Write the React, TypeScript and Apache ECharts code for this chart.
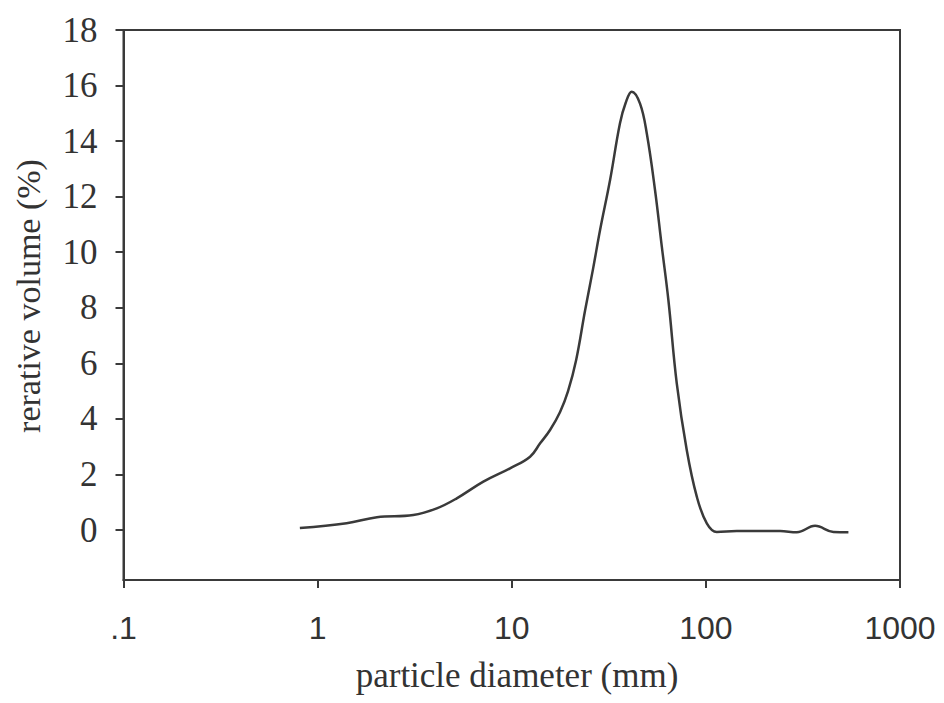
import React, { useEffect, useRef } from "react";
import * as echarts from "echarts";

// particle diameter (mm)
const diameters = [
  0.81, 1.41, 2.02, 3.11, 4.11, 5.21, 7.14, 9.8, 12.43, 14.0, 15.75, 17.74, 19.5, 21.44, 23.86,
  26.23, 28.51, 32.1, 36.1, 38.6, 41.5, 45.8, 49.6, 54.7, 59.3, 64.1, 70.8, 79.7, 89.8, 101.1,
  113.8, 144.3, 241.2, 294.0, 365.2, 453.9, 542.3,
];
// relative volume (%)
const volumes = [
  0.07, 0.24, 0.46, 0.54, 0.78, 1.14, 1.74, 2.22, 2.64, 3.12, 3.6, 4.25, 5.0, 6.1, 7.9,
  9.4, 10.8, 12.6, 14.64, 15.37, 15.78, 15.35, 14.28, 12.24, 10.2, 8.28, 5.28, 2.88, 1.2, 0.24,
  -0.07, -0.04, -0.04, -0.08, 0.15, -0.07, -0.08,
];
const xTickLabels = [".1", "1", "10", "100", "1000"];
const yTickValues = [0, 2, 4, 6, 8, 10, 12, 14, 16, 18];
const xTitle = "particle diameter (mm)";
const yTitle = "rerative volume (%)";

export default function App() {
  const ref = useRef<HTMLDivElement>(null);
  useEffect(() => {
    if (!ref.current) return;
    const chart = echarts.init(ref.current, null, { renderer: "svg" });
    const lineColor = "#3a3a3a";
    const textColor = "#333";
    chart.setOption({
      animation: false,
      backgroundColor: "#ffffff",
      grid: {
        left: 123.5,
        right: 44,
        top: 30,
        bottom: 123,
        show: true,
        borderColor: lineColor,
        borderWidth: 2,
      },
      xAxis: {
        type: "log",
        logBase: 10,
        min: 0.1,
        max: 1000,
        splitLine: { show: false },
        minorTick: { show: false },
        axisLine: { show: true, onZero: false, lineStyle: { color: lineColor, width: 2 } },
        axisTick: { show: true, inside: false, length: 8, lineStyle: { color: lineColor, width: 2 } },
        axisLabel: {
          color: textColor,
          fontFamily: "Liberation Sans, Arial, sans-serif",
          fontSize: 32,
          margin: 32,
          formatter: (v: number) => {
            const idx = Math.round(Math.log10(v)) + 1;
            return xTickLabels[idx] ?? "";
          },
        },
      },
      yAxis: {
        type: "value",
        min: -1.8,
        max: 18,
        splitLine: { show: false },
        axisLine: { show: true, onZero: false, lineStyle: { color: lineColor, width: 2 } },
        axisTick: {
          show: true,
          inside: false,
          length: 8,
          lineStyle: { color: lineColor, width: 2 },
          customValues: yTickValues,
        },
        axisLabel: {
          color: textColor,
          fontFamily: "Liberation Serif, Times New Roman, serif",
          fontSize: 35,
          margin: 26,
          customValues: yTickValues,
        },
      },
      graphic: [
        {
          type: "text",
          x: 28,
          y: 296,
          rotation: Math.PI / 2,
          style: {
            text: yTitle,
            fill: textColor,
            font: '34px "Liberation Serif", "Times New Roman", serif',
            align: "center",
            verticalAlign: "middle",
          },
        },
        {
          type: "text",
          x: 517,
          y: 675,
          style: {
            text: xTitle,
            fill: textColor,
            font: '35px "Liberation Serif", "Times New Roman", serif',
            align: "center",
            verticalAlign: "middle",
          },
        },
      ],
      series: [
        {
          type: "line",
          data: diameters.map((d, i) => [d, volumes[i]]),
          smooth: 0.4,
          showSymbol: false,
          lineStyle: { color: lineColor, width: 2.5 },
        },
      ],
    });
    return () => chart.dispose();
  }, []);
  return (
    <div
      ref={ref}
      style={{ position: "fixed", left: 0, top: 0, width: 944, height: 703, background: "#fff" }}
    />
  );
}
